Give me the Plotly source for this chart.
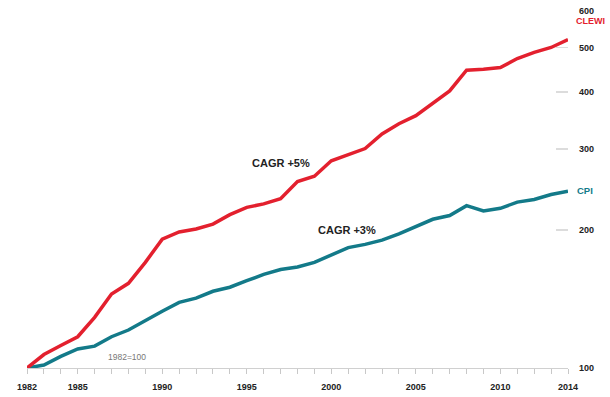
import plotly.graph_objects as go

years = list(range(1982, 2015))
clewi = [100, 107, 112, 117, 129, 145, 153, 170, 191, 198, 201, 206, 216, 224, 228, 234,
         255, 262, 283, 292, 301, 324, 341, 355, 378, 402, 446, 448, 452, 473, 488, 500, 520]
cpi = [100, 101.5, 106, 110, 111.6, 117, 121, 127, 133, 139, 142, 147, 150, 155, 160, 164,
       166, 170, 176, 183, 186, 190, 196, 203, 211, 215, 226, 220, 223, 230, 233, 239, 243]
x_ticks = [1982, 1985, 1990, 1995, 2000, 2005, 2010, 2014]
y_ticks = [100, 200, 300, 400, 500, 600]

RED = "#e3202e"
TEAL = "#137a89"
FONT = "Liberation Sans"

fig = go.Figure()
fig.add_trace(go.Scatter(x=years, y=cpi, mode="lines", line=dict(color=TEAL, width=3.5),
                         cliponaxis=False, hoverinfo="skip"))
fig.add_trace(go.Scatter(x=years, y=clewi, mode="lines", line=dict(color=RED, width=3.5),
                         cliponaxis=False, hoverinfo="skip"))

fig.update_layout(
    width=610, height=397,
    margin=dict(l=27, r=42, t=11, b=29, autoexpand=False),
    paper_bgcolor="white", plot_bgcolor="white",
    showlegend=False,
    hovermode=False,
    font=dict(family=FONT, color="#222"),
    xaxis=dict(
        range=[1982, 2014], tickvals=x_ticks, ticktext=[str(v) for v in x_ticks],
        automargin=False,
        showgrid=False, zeroline=False, showline=True, linecolor="#d0d0d0", linewidth=1,
        ticks="outside", ticklen=5, tickcolor="#c8c8c8",
        minor=dict(dtick=1, tick0=1982, ticks="outside", ticklen=5, tickcolor="#c8c8c8", showgrid=False),
        ticklabelstandoff=5,
        tickfont=dict(family=FONT, size=9, color="#222", weight="bold"),
    ),
    yaxis=dict(
        type="log", range=[2, 2.7785], side="right", automargin=False,
        tickvals=y_ticks, ticktext=[str(v) for v in y_ticks],
        showgrid=False, zeroline=False, showline=False,
        ticks="inside", ticklen=12, tickcolor="#dcdcdc", tickwidth=1.5,
        ticklabelstandoff=10,
        tickfont=dict(family=FONT, size=9, color="#222", weight="bold"),
    ),
)

def px(xp, yp):
    return (xp - 27) / 541, (368 - yp) / 357

anns = [
    ("CLEWI", 574, 21, RED, 9, "bold", "left"),
    ("CPI", 575, 190, TEAL, 9.5, "bold", "left"),
    ("CAGR +5%", 281, 163, "#222", 11, "bold", "center"),
    ("CAGR +3%", 347, 230, "#222", 11, "bold", "center"),
    ("1982=100", 127, 357, "#777", 8.5, "normal", "center"),
]
for text, xp, yp, col, size, w, anc in anns:
    ax, ay = px(xp, yp)
    fig.add_annotation(x=ax, y=ay, xref="paper", yref="paper", text=text, showarrow=False,
                       xanchor=anc, yanchor="middle",
                       font=dict(family=FONT, size=size, color=col, weight=w))

fig.write_html("out.html", config={"displayModeBar": False, "staticPlot": True},
               post_script="document.body.style.margin='0';document.body.style.overflow='hidden';")
